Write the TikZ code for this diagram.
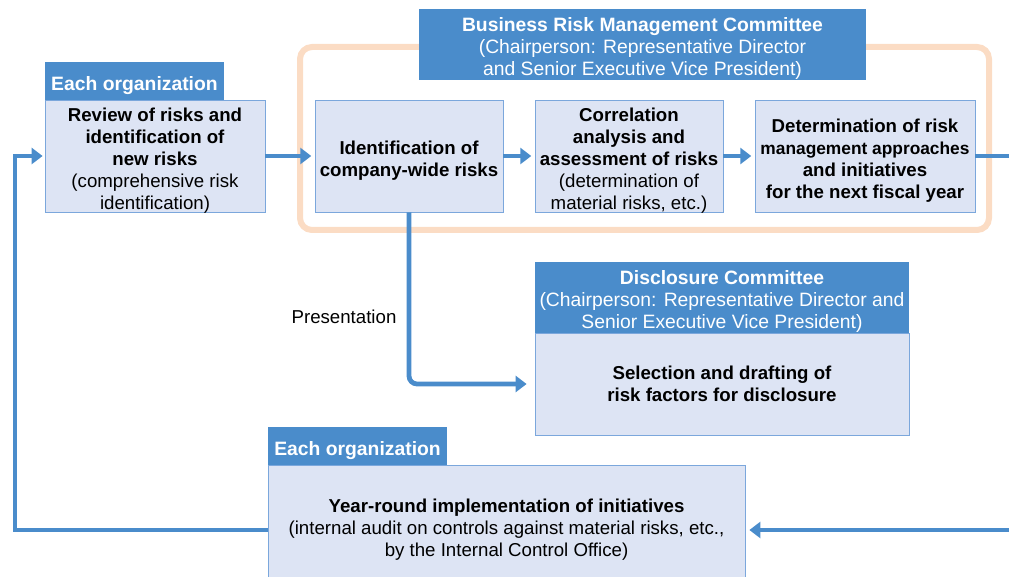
\documentclass[tikz,border=0pt]{standalone}
\usepackage{fontspec}
\setmainfont{Liberation Sans}
\usetikzlibrary{arrows.meta}
\definecolor{rmblue}{HTML}{4A8CCB}
\definecolor{rmlight}{HTML}{DDE4F4}
\definecolor{rmedge}{HTML}{7BA7DC}
\definecolor{rmorange}{HTML}{FBDCC4}
\newcommand{\topgap}{\rule{0pt}{17pt}}

\begin{document}
\begin{tikzpicture}[
x=0.75pt, y=-0.75pt,
head/.style={fill=rmblue, text=white, align=center, inner sep=0pt, font=\fontsize{14.5}{16.5}\selectfont},
body/.style={fill=rmlight, draw=rmedge, line width=0.6pt, align=center, inner sep=0pt, font=\fontsize{14}{16.5}\selectfont},
flow/.style={draw=rmblue, line width=3.6pt, -{Triangle[length=8.25pt,width=12pt]}}
]
\useasboundingbox (0,0) rectangle (1009,577);
\clip (0,0) rectangle (1009,577);

% committee frame
\draw[rmorange, line width=4.5pt, rounded corners=9pt] (300,47) rectangle (989,230);

% upper row
\node[head, minimum width=134.25pt, minimum height=28.5pt] (org1) at (134.5,81) {\topgap\textbf{Each organization}};
\node[body, inner ysep=-4pt, minimum width=165pt, minimum height=84pt] (review) at (155,156)
  {\topgap\textbf{Review of risks and}\\\textbf{identification of}\\\textbf{new risks}\\(comprehensive risk\\identification)};
\node[head, minimum width=335.25pt, minimum height=53.25pt] (brm) at (642.5,44.5)
  {\topgap\textbf{Business Risk Management Committee}\\(Chairperson: Representative Director\\and Senior Executive Vice President)};
\node[body, minimum width=141pt, minimum height=84pt] (ident) at (409,156)
  {\topgap\textbf{Identification of}\\\textbf{company-wide risks}};
\node[body, inner ysep=-4pt, minimum width=141pt, minimum height=84pt] (corr) at (629,156)
  {\topgap\textbf{Correlation}\\\textbf{analysis and}\\\textbf{assessment of risks}\\(determination of\\material risks, etc.)};
\node[body, minimum width=165pt, minimum height=84pt] (det) at (865,156)
  {\topgap\textbf{Determination of risk}\\{\fontsize{13}{16.5}\selectfont\textbf{management approaches}}\\\textbf{and initiatives}\\\textbf{for the next fiscal year}};

% disclosure
\node[head, minimum width=280.5pt, minimum height=53.25pt] (disc) at (722,297.5)
  {\topgap\textbf{Disclosure Committee}\\(Chairperson: Representative Director and\\Senior Executive Vice President)};
\node[body, minimum width=280.5pt, minimum height=76.5pt] (select) at (722,384)
  {\textbf{Selection and drafting of}\\\textbf{risk factors for disclosure}};
\node[font=\fontsize{14}{16.5}\selectfont] (pres) at (344,317) {Presentation};

% lower row
\node[head, minimum width=134.25pt, minimum height=28.5pt] (org2) at (357.5,446) {\topgap\textbf{Each organization}};
\node[body, minimum width=357.75pt, minimum height=97.5pt] (year) at (506.5,530)
  {\textbf{Year-round implementation of initiatives}\\(internal audit on controls against material risks, etc.,\\by the Internal Control Office)};

% loop points
\coordinate (loopL) at (15,530);
\coordinate (loopR) at (1040,530);

% connectors
\draw[flow, shorten >=2.5pt] (review) -- (ident);
\draw[flow, shorten >=2.5pt] (ident) -- (corr);
\draw[flow, shorten >=2.5pt] (corr) -- (det);
\draw[flow, rounded corners=6pt, shorten >=6pt] (ident.south) |- (select.west);
\draw[flow, shorten >=3pt] (det.east) -| (loopR) -- (year.east);
\draw[flow, shorten >=1.5pt] (year.west) -- (loopL) |- (review.west);

\end{tikzpicture}
\end{document}
